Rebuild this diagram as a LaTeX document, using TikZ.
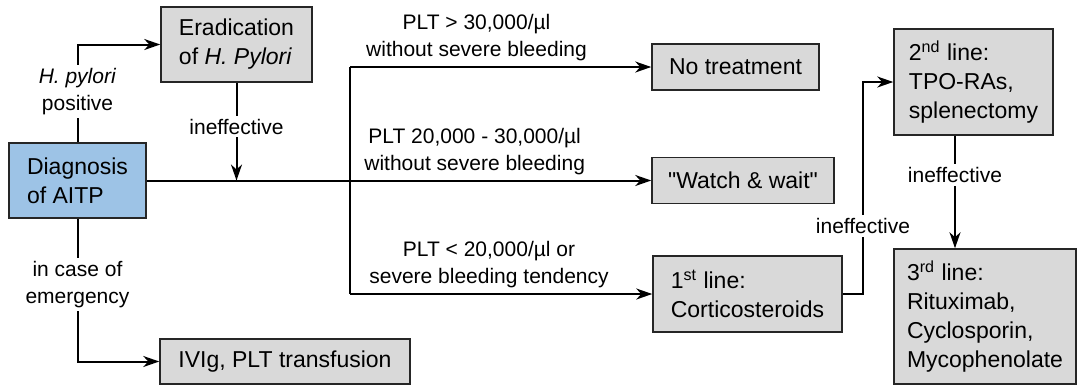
\documentclass[tikz,border=0pt]{standalone}
\usepackage{fontspec}
\setmainfont{Liberation Sans}
\usetikzlibrary{arrows.meta}
\definecolor{boxgrey}{RGB}{217,217,217}
\definecolor{diagblue}{RGB}{157,195,230}

\begin{document}
\begin{tikzpicture}[x=0.5pt, y=-0.5pt,
	box/.style={draw=black!85, line width=0.75pt, fill=boxgrey, align=left, inner sep=0pt,
		font=\fontsize{11.5}{14.5}\selectfont},
	lbl/.style={fill=white, align=center, inner sep=1.5pt, font=\fontsize{10.5}{13.5}\selectfont},
	cond/.style={above, align=center, inner sep=2.5pt, font=\fontsize{10.5}{13.5}\selectfont},
	flow/.style={line width=1pt, -{Stealth[length=8pt, width=5.5pt, inset=2.5pt]}}]
	\useasboundingbox (0,0) rectangle (1077,387);

	% Boxes
	\node[box, fill=diagblue, minimum width=68.5pt, minimum height=37.5pt] (diag) at (77.5,180.5) {Diagnosis\\of AITP};
	\node[box, minimum width=75.5pt, minimum height=37.5pt] (erad) at (236.5,44.5) {Eradication\\of \textit{H. Pylori}};
	\node[box, minimum width=125pt, minimum height=22.5pt] (ivig) at (285,361.5) {IVIg, PLT transfusion};
	\node[box, minimum width=83.5pt, minimum height=23pt] (notreat) at (735.5,67) {No treatment};
	\node[box, minimum width=91pt, minimum height=23pt] (watch) at (743,180.5) {\textquotedbl Watch \& wait\textquotedbl};
	\node[box, minimum width=94.5pt, minimum height=38pt] (first) at (747.5,294) {1\textsuperscript{st} line:\\Corticosteroids};
	\node[box, minimum width=79.5pt, minimum height=53pt] (second) at (973.5,82) {2\textsuperscript{nd} line:\\TPO-RAs,\\splenectomy};
	\node[box, minimum width=91pt, minimum height=67.5pt] (third) at (985,316.5) {3\textsuperscript{rd} line:\\Rituximab,\\Cyclosporin,\\Mycophenolate};

	% Helper points
	\coordinate (split) at (350,181);
	\coordinate (bend) at (863,0);
	\coordinate (drop) at (955,0);

	% Left part
	\draw[flow] (diag.north) |- node[lbl, pos=0.26] {\textit{H. pylori}\\positive} (erad.west);
	\draw[flow] (diag.south) |- node[lbl, pos=0.23] {in case of\\emergency} (ivig.west);
	\draw[flow] (erad.south) -- node[lbl, pos=0.45] {ineffective} (erad.south |- diag.east);

	% Branches by PLT count
	\draw[line width=1pt] (split |- notreat.west) -- (split |- first.west);
	\draw[flow] (split |- notreat.west) -- node[cond, pos=0.42] {PLT > 30,000/µl\\without severe bleeding} (notreat.west);
	\draw[flow] (diag.east) -- node[cond, pos=0.65] {PLT 20,000 - 30,000/µl\\without severe bleeding} (watch.west);
	\draw[flow] (split |- first.west) -- node[cond, pos=0.46] {PLT < 20,000/µl or\\severe bleeding tendency} (first.west);

	% Further lines
	\draw[flow] (first.east) -| node[lbl, pos=0.66] {ineffective} (bend |- second.west) -- (second.west);
	\draw[flow] (second.south -| drop) -- node[lbl, pos=0.35] {ineffective} (third.north -| drop);
\end{tikzpicture}
\end{document}
